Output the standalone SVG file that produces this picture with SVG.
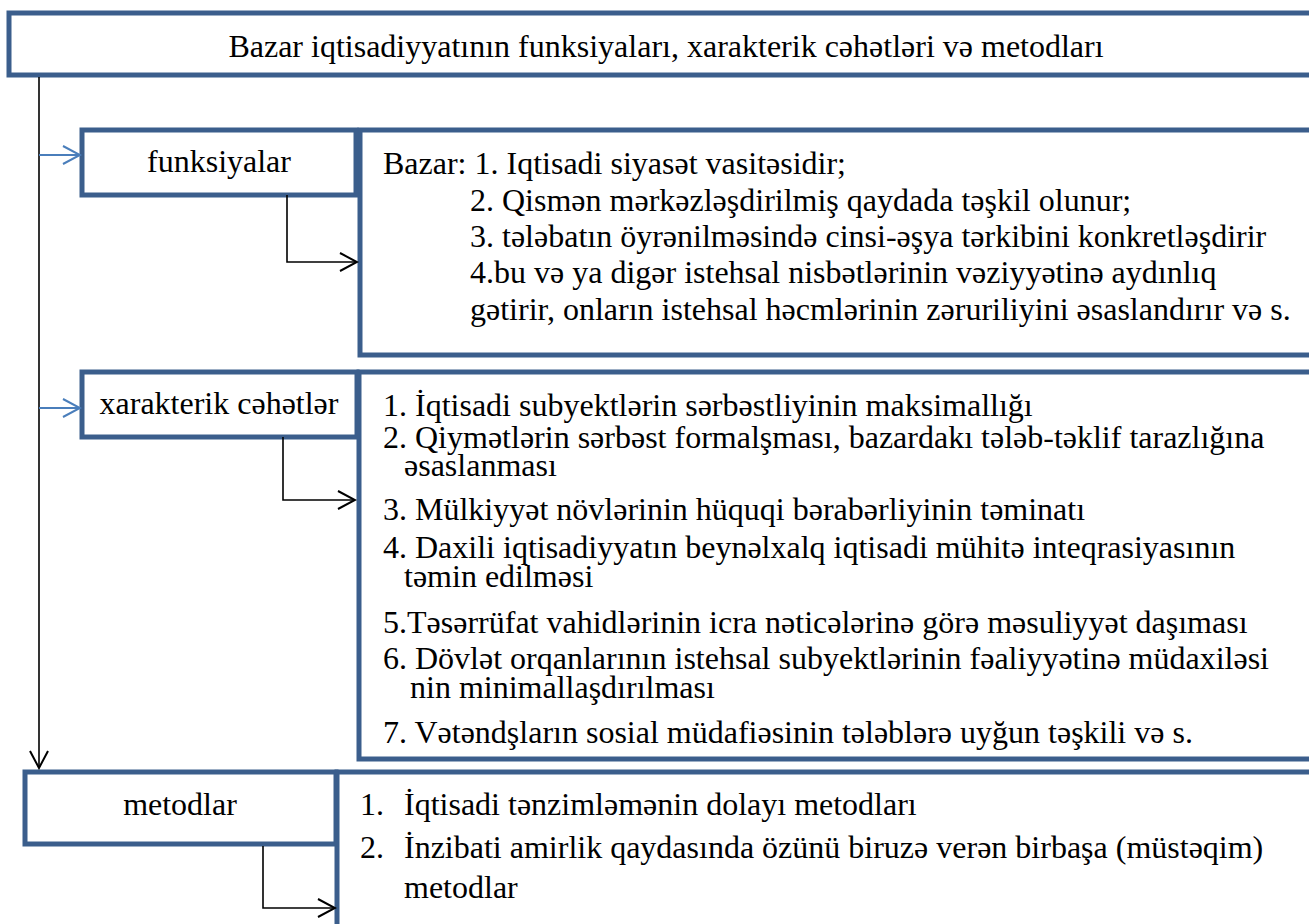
<svg xmlns="http://www.w3.org/2000/svg" width="1309" height="924" viewBox="0 0 1309 924">
<style>
.box{fill:#ffffff;stroke:#3B5E8C;stroke-width:5}
.t{font-family:'Liberation Serif','Times New Roman','DejaVu Serif',serif;font-size:32px;fill:#000}
.c{text-anchor:middle}
.k{fill:none;stroke:#000;stroke-width:1.6}
.b{fill:none;stroke:#4A7EBB;stroke-width:2}
</style>
<defs>
<marker id="ak" viewBox="0 0 20 20" refX="18" refY="10" markerWidth="20" markerHeight="20" markerUnits="userSpaceOnUse" orient="auto">
<path d="M1,1 L18,10 L1,19" fill="none" stroke="#000" stroke-width="2"/>
</marker>
<marker id="ab" viewBox="0 0 20 20" refX="18" refY="10" markerWidth="20" markerHeight="20" markerUnits="userSpaceOnUse" orient="auto">
<path d="M1,1 L18,10 L1,19" fill="none" stroke="#4A7EBB" stroke-width="2"/>
</marker>
</defs>
<rect width="1309" height="924" fill="#fff"/>

<g id="title">
<rect class="box" x="9" y="13" width="1320" height="62"/>
<text class="t c" x="666" y="57">Bazar iqtisadiyyatının funksiyaları, xarakterik cəhətləri və metodları</text>
</g>

<g id="funksiyalar-content">
<rect class="box" x="360" y="130" width="970" height="225"/>
<text class="t" x="383" y="174">Bazar: 1. Iqtisadi siyasət vasitəsidir;</text>
<text class="t" x="470" y="211">2. Qismən mərkəzləşdirilmiş qaydada təşkil olunur;</text>
<text class="t" x="470" y="247">3. tələbatın öyrənilməsində cinsi-əşya tərkibini konkretləşdirir</text>
<text class="t" x="470" y="283">4.bu və ya digər istehsal nisbətlərinin vəziyyətinə aydınlıq</text>
<text class="t" x="470" y="320">gətirir, onların istehsal həcmlərinin zəruriliyini əsaslandırır və s.</text>
</g>

<g id="funksiyalar">
<rect class="box" x="82" y="130" width="274" height="65"/>
<text class="t c" x="219" y="172">funksiyalar</text>
</g>

<g id="xarakterik-content">
<rect class="box" x="359" y="372" width="970" height="387"/>
<text class="t" x="383" y="416">1. İqtisadi subyektlərin sərbəstliyinin maksimallığı</text>
<text class="t" x="383" y="448">2. Qiymətlərin sərbəst formalşması, bazardakı tələb-təklif tarazlığına</text>
<text class="t" x="404" y="476">əsaslanması</text>
<text class="t" x="383" y="520">3. Mülkiyyət növlərinin hüquqi bərabərliyinin təminatı</text>
<text class="t" x="383" y="558">4. Daxili iqtisadiyyatın beynəlxalq iqtisadi mühitə inteqrasiyasının</text>
<text class="t" x="404" y="587">təmin edilməsi</text>
<text class="t" x="383" y="633">5.Təsərrüfat vahidlərinin icra nəticələrinə görə məsuliyyət daşıması</text>
<text class="t" x="383" y="669">6. Dövlət orqanlarının istehsal subyektlərinin fəaliyyətinə müdaxiləsi</text>
<text class="t" x="410" y="698">nin minimallaşdırılması</text>
<text class="t" x="383" y="743">7. Vətəndşların sosial müdafiəsinin tələblərə uyğun təşkili və s.</text>
</g>

<g id="xarakterik">
<rect class="box" x="82" y="372" width="275" height="65"/>
<text class="t c" x="219" y="414">xarakterik cəhətlər</text>
</g>

<g id="metodlar-content">
<rect class="box" x="337" y="772" width="990" height="200"/>
<text class="t" x="360" y="815">1.</text>
<text class="t" x="404" y="815">İqtisadi tənzimləmənin dolayı metodları</text>
<text class="t" x="360" y="858">2.</text>
<text class="t" x="404" y="858">İnzibati amirlik qaydasında özünü biruzə verən birbaşa (müstəqim)</text>
<text class="t" x="404" y="898">metodlar</text>
</g>

<g id="metodlar">
<rect class="box" x="25" y="772" width="311" height="72"/>
<text class="t c" x="180" y="815">metodlar</text>
</g>

<g id="connectors">
<path class="k" d="M39,77 L39,768" marker-end="url(#ak)"/>
<path class="b" d="M39,155 L80,155" marker-end="url(#ab)"/>
<path class="b" d="M39,408 L80,408" marker-end="url(#ab)"/>
<path class="k" d="M287,195 L287,262 L357,262" marker-end="url(#ak)"/>
<path class="k" d="M283,437 L283,500 L355,500" marker-end="url(#ak)"/>
<path class="k" d="M263,846 L263,908 L335,908" marker-end="url(#ak)"/>
</g>
</svg>
